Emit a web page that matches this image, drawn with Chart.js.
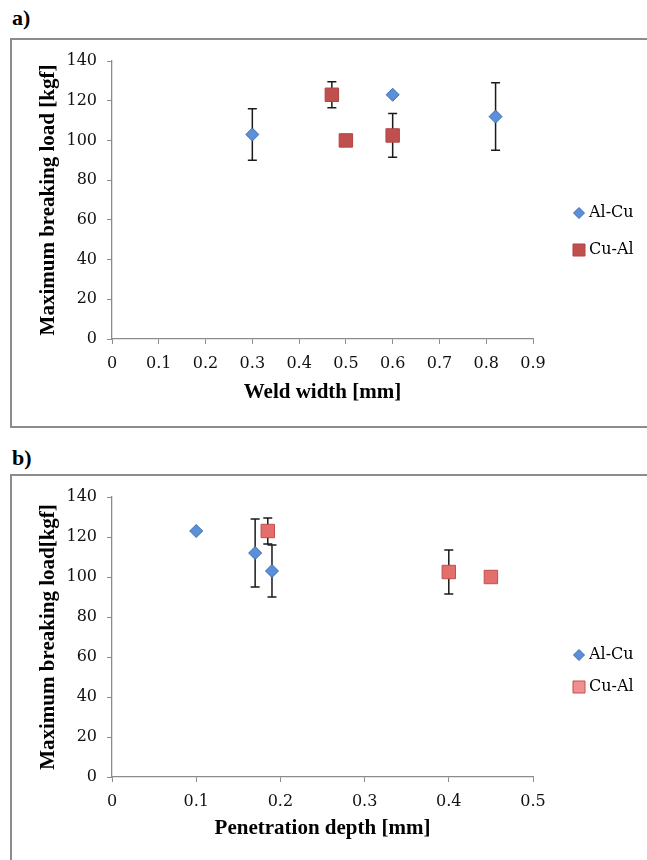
<!DOCTYPE html>
<html>
<head>
<meta charset="utf-8">
<script src="https://cdn.jsdelivr.net/npm/chart.js@4.4.0/dist/chart.umd.min.js"></script>
<style>
  body { margin: 0; background: #fff; width: 647px; height: 860px; overflow: hidden; position: relative; font-family: "Liberation Serif", serif; }
  .tag { position: absolute; left: 12px; font-weight: bold; font-size: 22px; color: #000; }
  .frame { position: absolute; left: 10px; width: 650px; border: 2px solid #8c8c8c; }
  .box { position: absolute; left: 0; width: 647px; }
</style>
</head>
<body>
<div class="tag" style="top:5px">a)</div>
<div class="frame" style="top:38px;height:386px"></div>
<div class="tag" style="top:445px">b)</div>
<div class="frame" style="top:474px;height:400px"></div>
<div class="box" style="top:0;height:430px"><canvas id="chartA"></canvas></div>
<div class="box" style="top:440px;height:420px"><canvas id="chartB"></canvas></div>

<script>
// Data
const seriesNames = ['Al-Cu', 'Cu-Al'];

const alCuWidth = [0.3, 0.6, 0.82];
const alCuDepth = [0.19, 0.1, 0.17];
const alCuLoad = [103, 123, 112];
const alCuErr = [13, 0, 17];

const cuAlWidth = [0.47, 0.5, 0.6];
const cuAlDepth = [0.185, 0.45, 0.4];
const cuAlLoad = [123, 100, 102.5];
const cuAlErr = [6.5, 0, 11];

const loadTicks = [0, 20, 40, 60, 80, 100, 120, 140];
const widthTicks = [0, 0.1, 0.2, 0.3, 0.4, 0.5, 0.6, 0.7, 0.8, 0.9];
const depthTicks = [0, 0.1, 0.2, 0.3, 0.4, 0.5];

const axisGray = '#8c8c8c';
const tickFont = { family: 'DejaVu Serif', size: 16 };
const titleFont = { family: 'Liberation Serif', size: 21, weight: 'bold' };

function points(xs, ys) {
    return xs.map((x, i) => ({ x: x, y: ys[i] }));
}

// Error bars, drawn under the markers
const errorBars = {
    id: 'errorBars',
    beforeDatasetsDraw(chart) {
        const ctx = chart.ctx;
        const xs = chart.scales.x;
        const ys = chart.scales.y;
        ctx.save();
        ctx.strokeStyle = '#1a1a1a';
        ctx.lineWidth = 1.5;
        chart.data.datasets.forEach(ds => {
            ds.data.forEach((p, i) => {
                const e = ds.errors[i];
                if (!e) return;
                const x = xs.getPixelForValue(p.x);
                const top = ys.getPixelForValue(p.y + e);
                const bot = ys.getPixelForValue(p.y - e);
                ctx.beginPath();
                ctx.moveTo(x, top); ctx.lineTo(x, bot);
                ctx.moveTo(x - 4.5, top); ctx.lineTo(x + 4.5, top);
                ctx.moveTo(x - 4.5, bot); ctx.lineTo(x + 4.5, bot);
                ctx.stroke();
            });
        });
        ctx.restore();
    }
};

// Legend on the right side
const sideLegend = {
    id: 'sideLegend',
    afterDraw(chart, args, opts) {
        const ctx = chart.ctx;
        ctx.save();
        chart.data.datasets.forEach((ds, i) => {
            const y = opts.ys[i];
            ctx.fillStyle = opts.fills[i];
            ctx.strokeStyle = ds.borderColor;
            ctx.lineWidth = 1;
            Chart.helpers.drawPoint(ctx, {
                pointStyle: ds.pointStyle,
                radius: opts.radius[i],
                borderWidth: 1,
                rotation: 0
            }, opts.x, y);
            ctx.fillStyle = '#000';
            ctx.font = '16px "DejaVu Serif"';
            ctx.textBaseline = 'middle';
            ctx.fillText(ds.label, opts.x + 10, y);
        });
        ctx.restore();
    }
};

function makeChart(id, cfg) {
    return new Chart(document.getElementById(id), {
        type: 'scatter',
        data: {
            datasets: [
                {
                    label: seriesNames[0],
                    data: points(cfg.alCuX, alCuLoad),
                    errors: alCuErr,
                    pointStyle: 'rectRot',
                    pointRadius: 6.5,
                    pointHoverRadius: 6.5,
                    backgroundColor: '#5b8fd8',
                    borderColor: '#3c6db3',
                    borderWidth: 1
                },
                {
                    label: seriesNames[1],
                    data: points(cfg.cuAlX, cuAlLoad),
                    errors: cuAlErr,
                    pointStyle: 'rect',
                    pointRadius: 9.5,
                    pointHoverRadius: 9.5,
                    backgroundColor: cfg.redFill,
                    borderColor: cfg.redBorder,
                    borderWidth: 1
                }
            ]
        },
        options: {
            responsive: true,
            maintainAspectRatio: false,
            animation: false,
            layout: { padding: cfg.padding },
            plugins: {
                legend: { display: false },
                tooltip: { enabled: false },
                sideLegend: cfg.legend
            },
            scales: {
                x: {
                    type: 'linear',
                    min: 0,
                    max: cfg.xMax,
                    afterBuildTicks: s => { s.ticks = cfg.xTicks.map(v => ({ value: v })); },
                    afterFit: s => { s.height = cfg.xHeight; },
                    ticks: { font: tickFont, color: '#111', padding: 10, maxRotation: 0, callback: v => String(v) },
                    grid: { drawOnChartArea: false, drawTicks: true, tickLength: 5, color: axisGray },
                    border: { color: axisGray, width: 1.3 },
                    title: { display: true, text: cfg.xTitle, font: titleFont, color: '#000', padding: { top: 0, bottom: cfg.xTitlePad } }
                },
                y: {
                    type: 'linear',
                    min: 0,
                    max: 140,
                    afterBuildTicks: s => { s.ticks = loadTicks.map(v => ({ value: v })); },
                    afterFit: s => { s.width = 112; },
                    ticks: { font: tickFont, color: '#111', padding: 10, callback: v => String(v) },
                    grid: { drawOnChartArea: false, drawTicks: true, tickLength: 5, color: axisGray },
                    border: { color: axisGray, width: 1.3 },
                    title: { display: true, text: cfg.yTitle, font: titleFont, color: '#000', padding: { top: 36, bottom: 0 } }
                }
            }
        },
        plugins: [errorBars, sideLegend]
    });
}

// a) weld width
makeChart('chartA', {
    alCuX: alCuWidth,
    cuAlX: cuAlWidth,
    xMax: 0.9,
    xTicks: widthTicks,
    xTitle: 'Weld width [mm]',
    yTitle: 'Maximum breaking load [kgf]',
    xHeight: 70,
    xTitlePad: 4,
    padding: { left: 0, top: 61, right: 114, bottom: 21 },
    redFill: '#c0504d',
    redBorder: '#b04542',
    legend: { x: 579, ys: [213, 250], fills: ['#5b8fd8', '#c0504d'], radius: [5.5, 8.5] }
});

// b) penetration depth
makeChart('chartB', {
    alCuX: alCuDepth,
    cuAlX: cuAlDepth,
    xMax: 0.5,
    xTicks: depthTicks,
    xTitle: 'Penetration depth [mm]',
    yTitle: 'Maximum breaking load[kgf]',
    xHeight: 64,
    xTitlePad: 0,
    padding: { left: 0, top: 57, right: 114, bottom: 19 },
    redFill: '#e36e6b',
    redBorder: '#c0504d',
    legend: { x: 579, ys: [215, 247], fills: ['#5b8fd8', '#f0908e'], radius: [5.5, 8.5] }
});
</script>
</body>
</html>
